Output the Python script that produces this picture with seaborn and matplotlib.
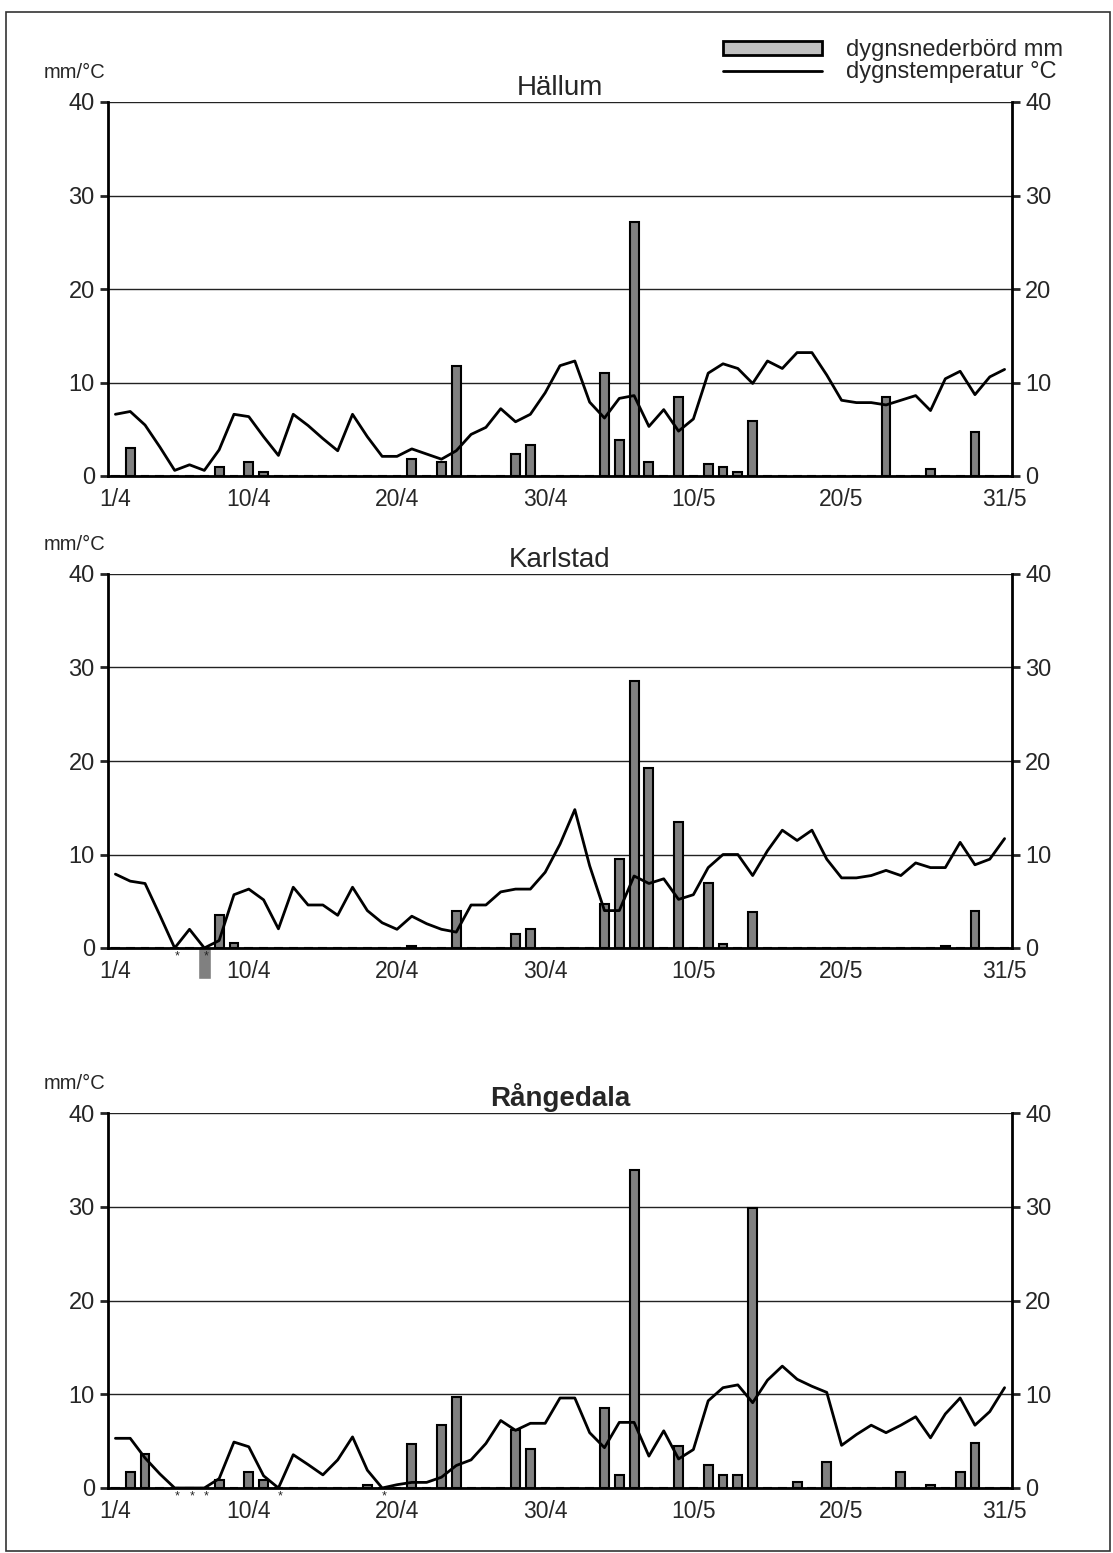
import numpy as np
import pandas as pd
import matplotlib
matplotlib.use('Agg')
import matplotlib.pyplot as plt
import seaborn as sns
from matplotlib.patches import Patch, Rectangle
from matplotlib.lines import Line2D

# dag 0 = 1/4 ... dag 60 = 31/5
tick_pos = [0, 9, 19, 29, 39, 49, 60]
tick_labels = ['1/4', '10/4', '20/4', '30/4', '10/5', '20/5', '31/5']

hallum_temp = [6.6, 6.9, 5.45, 3.1, 0.6, 1.2, 0.6, 2.8, 6.6, 6.35,
               4.2, 2.2, 6.6, 5.4, 4.0, 2.7, 6.6, 4.2, 2.1, 2.1,
               2.9, 2.35, 1.8, 2.7, 4.45, 5.2, 7.2, 5.8, 6.6, 8.9,
               11.8, 12.3, 7.9, 6.2, 8.3, 8.6, 5.3, 7.1, 4.8, 6.1,
               11.0, 12.0, 11.5, 9.9, 12.3, 11.5, 13.2, 13.2, 10.8, 8.1,
               7.85, 7.85, 7.6, 8.1, 8.6, 7.0, 10.4, 11.2, 8.7, 10.6, 11.4]
hallum_prec = [0, 3.0, 0, 0, 0, 0, 0, 0.95, 0, 1.5,
               0.4, 0, 0, 0, 0, 0, 0, 0, 0, 0,
               1.8, 0, 1.5, 11.8, 0, 0, 0, 2.4, 3.3, 0,
               0, 0, 0, 11.0, 3.85, 27.2, 1.5, 0, 8.4, 0,
               1.25, 1.0, 0.4, 5.85, 0, 0, 0, 0, 0, 0,
               0, 0, 8.4, 0, 0, 0.7, 0, 0, 4.7, 0, 0]

karlstad_temp = [7.9, 7.15, 6.9, 3.5, 0.0, 2.0, 0.0, 0.8, 5.7, 6.3,
                 5.15, 2.05, 6.5, 4.6, 4.6, 3.5, 6.5, 4.0, 2.7, 2.0,
                 3.4, 2.6, 2.0, 1.7, 4.6, 4.6, 6.0, 6.3, 6.3, 8.1,
                 11.1, 14.8, 8.8, 4.0, 4.0, 7.7, 6.9, 7.4, 5.2, 5.7,
                 8.6, 10.0, 10.0, 7.75, 10.4, 12.6, 11.5, 12.6, 9.5, 7.5,
                 7.5, 7.75, 8.3, 7.75, 9.1, 8.6, 8.6, 11.3, 8.9, 9.5, 11.7]
karlstad_prec = [0, 0, 0, 0, 0, 0, 0, 3.5, 0.5, 0,
                 0, 0, 0, 0, 0, 0, 0, 0, 0, 0,
                 0.25, 0, 0, 4.0, 0, 0, 0, 1.5, 2.0, 0,
                 0, 0, 0, 4.7, 9.5, 28.6, 19.2, 0, 13.5, 0,
                 6.9, 0.45, 0, 3.8, 0, 0, 0, 0, 0, 0,
                 0, 0, 0, 0, 0, 0, 0.25, 0, 4.0, 0, 0]

rangedala_temp = [5.3, 5.3, 3.2, 1.5, 0.0, 0.0, 0.0, 1.0, 4.9, 4.4,
                  1.3, 0.0, 3.55, 2.5, 1.4, 3.0, 5.45, 1.9, 0.0, 0.35,
                  0.6, 0.6, 1.15, 2.4, 3.0, 4.75, 7.2, 6.15, 6.9, 6.9,
                  9.6, 9.6, 5.9, 4.3, 7.0, 7.0, 3.4, 6.1, 3.1, 4.1,
                  9.3, 10.7, 11.0, 9.1, 11.5, 13.0, 11.6, 10.85, 10.2, 4.55,
                  5.7, 6.7, 5.9, 6.7, 7.6, 5.35, 7.9, 9.6, 6.7, 8.15, 10.7]
rangedala_prec = [0, 1.7, 3.6, 0, 0, 0, 0, 0.9, 0, 1.7,
                  0.9, 0, 0, 0, 0, 0, 0, 0.3, 0, 0,
                  4.7, 0, 6.7, 9.7, 0, 0, 0, 6.2, 4.2, 0,
                  0, 0, 0, 8.5, 1.4, 33.9, 0, 0, 4.5, 0,
                  2.5, 1.4, 1.4, 29.9, 0, 0, 0.6, 0, 2.8, 0,
                  0, 0, 0, 1.7, 0, 0.3, 0, 1.7, 4.8, 0, 0]

karlstad_stars = [4, 6]
rangedala_stars = [4, 5, 6, 11, 18]

BAR = '#808080'


def panel(ax, name, temp, prec, stars, bold=False):
    df = pd.DataFrame({'dag': np.arange(len(temp)), 'temp': temp, 'mm': prec})
    sns.barplot(data=df, x='dag', y='mm', native_scale=True, color=BAR,
                edgecolor='black', linewidth=1.5, width=0.6, errorbar=None,
                saturation=1, ax=ax)
    sns.lineplot(data=df, x='dag', y='temp', color='black', linewidth=2, ax=ax)
    ax.set_xlim(-0.5, 60.5)
    ax.set_ylim(0, 40)
    ax.set_xlabel('')
    ax.set_ylabel('')
    ax.set_yticks([0, 10, 20, 30, 40])
    ax.yaxis.grid(True, color='#222222', linewidth=1)
    ax.set_axisbelow(True)
    ax.set_xticks(tick_pos)
    ax.set_xticklabels(tick_labels)
    ax.set_xticks(np.arange(-0.5, 61, 1), minor=True)
    ax.tick_params(axis='x', which='major', length=0, pad=9, labelsize=16.5)
    ax.tick_params(axis='x', which='minor', length=6, width=1.5, direction='out')
    ax.tick_params(axis='y', which='major', length=6, width=2, direction='out',
                   labelsize=17, right=True, labelright=True, left=True)
    for s in ['left', 'right', 'bottom']:
        ax.spines[s].set_visible(True)
        ax.spines[s].set_color('black')
        ax.spines[s].set_linewidth(2)
    ax.spines['top'].set_visible(False)
    ax.set_title(name, fontsize=20, pad=5, fontweight='bold' if bold else 'normal')
    ax.text(-0.037, 1.078, 'mm/°C', transform=ax.transAxes, ha='center',
            va='center', fontsize=14.5)
    for i in stars:
        ax.text(i + 0.15, -0.25, '*', ha='center', va='top', fontsize=9,
                clip_on=False)


sns.set_style('white')
plt.rcParams['font.family'] = ['Liberation Sans', 'DejaVu Sans']

fig = plt.figure(figsize=(11.13, 15.53), dpi=100)
W, H = 1113, 1553
x0, w = 108 / W, 904 / W
ax1 = fig.add_axes([x0, 1 - 476 / H, w, 374 / H])
ax2 = fig.add_axes([x0, 1 - 948 / H, w, 374 / H])
ax3 = fig.add_axes([x0, 1 - 1488 / H, w, 375 / H])

panel(ax1, 'Hällum', hallum_temp, hallum_prec, [])
panel(ax2, 'Karlstad', karlstad_temp, karlstad_prec, karlstad_stars)
panel(ax3, 'Rångedala', rangedala_temp, rangedala_prec, rangedala_stars, bold=True)

# grå ruta under axeln i Karlstad
ax2.bar(6, -3.3, width=0.9, color=BAR, clip_on=False, zorder=0)

handles = [Patch(facecolor='#c0c0c0', edgecolor='black', linewidth=2),
           Line2D([0], [0], color='black', linewidth=2)]
fig.legend(handles, ['dygnsnederbörd mm', 'dygnstemperatur °C'],
           loc='upper right', bbox_to_anchor=(1072 / W, 1 - 30 / H),
           frameon=False, fontsize=17, handlelength=4.2, handleheight=0.55,
           labelspacing=0.0, handletextpad=1.0, borderaxespad=0)

fig.add_artist(Rectangle((6 / W, 2 / H), 1104 / W, 1539 / H, fill=False,
                         edgecolor='#333333', linewidth=1.2,
                         transform=fig.transFigure))

fig.savefig('out.png', dpi=100)
